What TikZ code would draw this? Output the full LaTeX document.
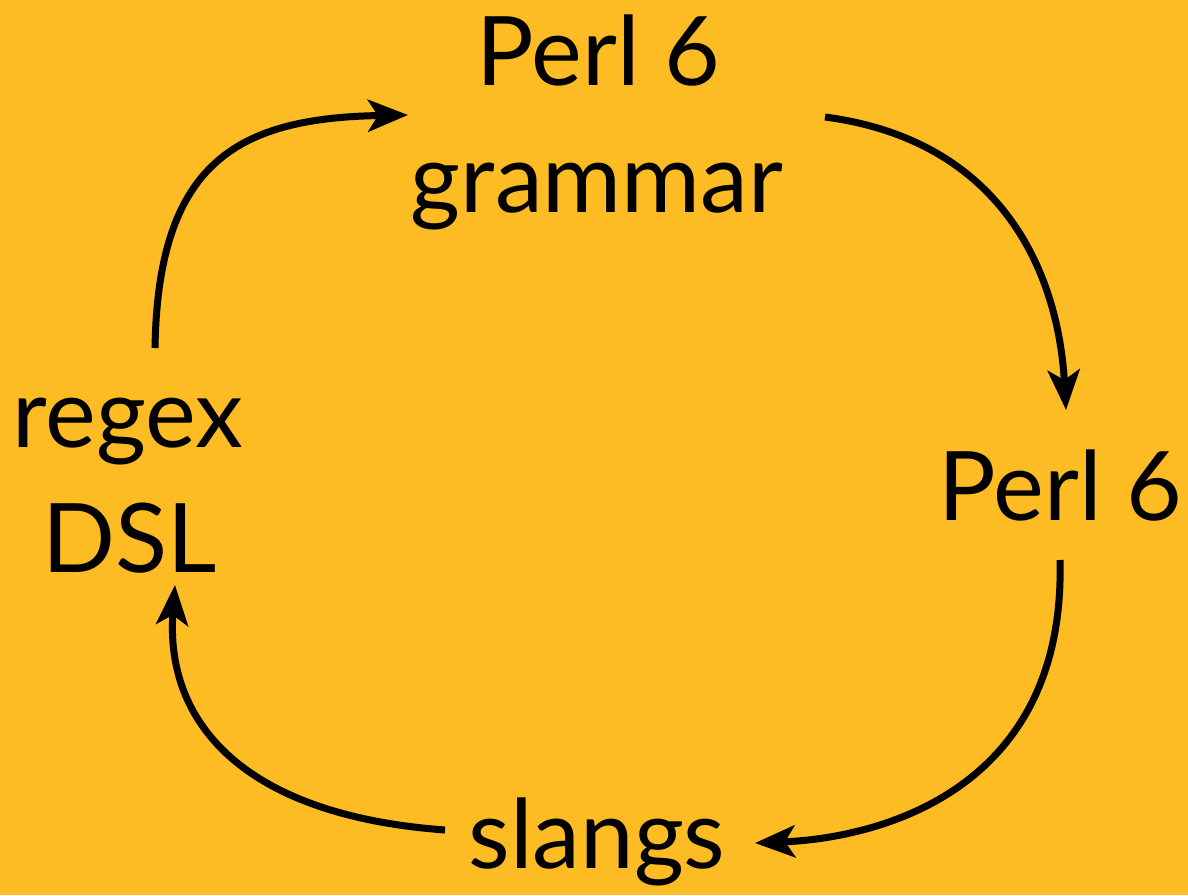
\documentclass[tikz,border=0pt]{standalone}
\usepackage{fontspec}
\setmainfont{Lato}
\usetikzlibrary{arrows.meta}
\definecolor{bg}{RGB}{253,187,36}
\tikzset{
  lbl/.style={anchor=base, inner sep=0pt, font=\fontsize{48}{54}\selectfont},
  flow/.style={line width=3.5pt, -{Stealth[length=20pt,width=16pt,inset=5pt]}}
}
\begin{document}
\begin{tikzpicture}[x=0.5pt,y=-0.5pt]
\fill[bg] (0,0) rectangle (1188,895);
\useasboundingbox (0,0) rectangle (1188,895);
\node[lbl] (p1) at (598,85) {Perl 6};
\node[lbl] (gr) at (597,212) {grammar};
\node[lbl] (p2) at (1060,520) {Perl 6};
\node[lbl] (sl) at (597,868) {slangs};
\node[lbl] (re) at (128,447) {regex};
\node[lbl] (ds) at (130,572) {DSL};
\coordinate (a1s) at (155,348);
\coordinate (a1e) at (408,115);
\coordinate (a2s) at (825,117);
\coordinate (a2e) at (1066,410);
\coordinate (a3s) at (1060,560);
\coordinate (a3e) at (755,843);
\coordinate (a4s) at (445,830);
\coordinate (a4e) at (175,585);
\draw[flow] (a1s) .. controls (158,160) and (240,118) .. (a1e);
\draw[flow] (a2s) .. controls (1000,140) and (1058,270) .. (a2e);
\draw[flow] (a3s) .. controls (1066,790) and (880,838) .. (a3e);
\draw[flow] (a4s) .. controls (240,815) and (165,720) .. (a4e);
\end{tikzpicture}
\end{document}
